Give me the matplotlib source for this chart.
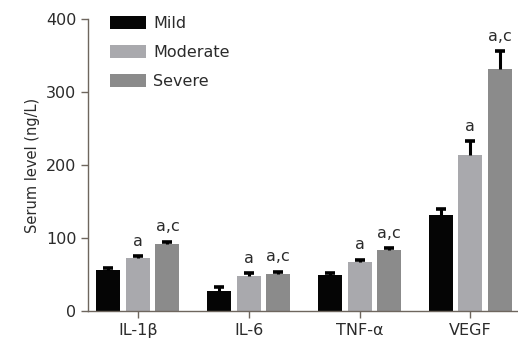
import matplotlib.pyplot as plt
import numpy as np

# serum levels (ng/L) by severity group, mean and upper error
markers = ["IL-1β", "IL-6", "TNF-α", "VEGF"]
groups = ["Mild", "Moderate", "Severe"]
mild = [56, 27, 49, 131]
moderate = [72, 48, 67, 214]
severe = [92, 50, 83, 331]
mild_err = [3, 6, 3, 9]
moderate_err = [3, 4, 3, 19]
severe_err = [3, 4, 3, 25]
# significance marks above each bar
mild_sig = ["", "", "", ""]
moderate_sig = ["a", "a", "a", "a"]
severe_sig = ["a,c", "a,c", "a,c", "a,c"]

colors = ["#050505", "#a9a9ad", "#8b8b8b"]
axis_color = "#6e665e"
text_color = "#2b2b2b"

plt.rcParams["font.family"] = ["DejaVu Sans"]
plt.rcParams["font.size"] = 11.5
plt.rcParams["text.color"] = text_color

fig = plt.figure(figsize=(5.18, 3.45), dpi=100)
ax = fig.add_axes([0.170, 0.0986, 0.828, 0.846])

x = np.arange(len(markers))
width = 0.216
step = 0.266
series = [(mild, mild_err, mild_sig), (moderate, moderate_err, moderate_sig),
          (severe, severe_err, severe_sig)]
for i, (vals, errs, sigs) in enumerate(series):
    pos = x + (i - 1) * step
    ax.bar(pos, vals, width, color=colors[i], label=groups[i], zorder=2)
    _, caps, _ = ax.errorbar(pos, vals, yerr=[np.zeros(len(vals)), errs], fmt="none",
                             ecolor="black", elinewidth=2.2, capsize=3.4,
                             capthick=2.6, zorder=3)
    # only the upper cap is drawn
    caps[0].set_visible(False)
    for p, v, e, s in zip(pos, vals, errs, sigs):
        if s:
            ax.annotate(s, (p, v + e), xytext=(0, 7.5), textcoords="offset points",
                        ha="center", va="baseline", fontsize=11.5, color=text_color)

ax.set_xlim(-0.45, 3.42)
ax.set_ylim(0, 400)
ax.set_yticks([0, 100, 200, 300, 400])
ax.set_xticks(x)
ax.set_xticklabels(markers)
ax.set_ylabel("Serum level (ng/L)", fontsize=10.5, color=text_color, labelpad=4)

for side in ["top", "right"]:
    ax.spines[side].set_visible(False)
for side in ["left", "bottom"]:
    ax.spines[side].set_color(axis_color)
    ax.spines[side].set_linewidth(1.0)
ax.tick_params(axis="both", colors=axis_color, labelcolor=text_color,
               length=5, width=1.0, labelsize=11.5)
ax.tick_params(axis="x", pad=4)

ax.legend(loc="upper left", bbox_to_anchor=(0.051, 1.01), frameon=False,
          borderpad=0, borderaxespad=0, handlelength=2.25, handleheight=0.9,
          handletextpad=0.45, labelspacing=0.85, fontsize=11.5)

fig.savefig("out.png", dpi=100)
